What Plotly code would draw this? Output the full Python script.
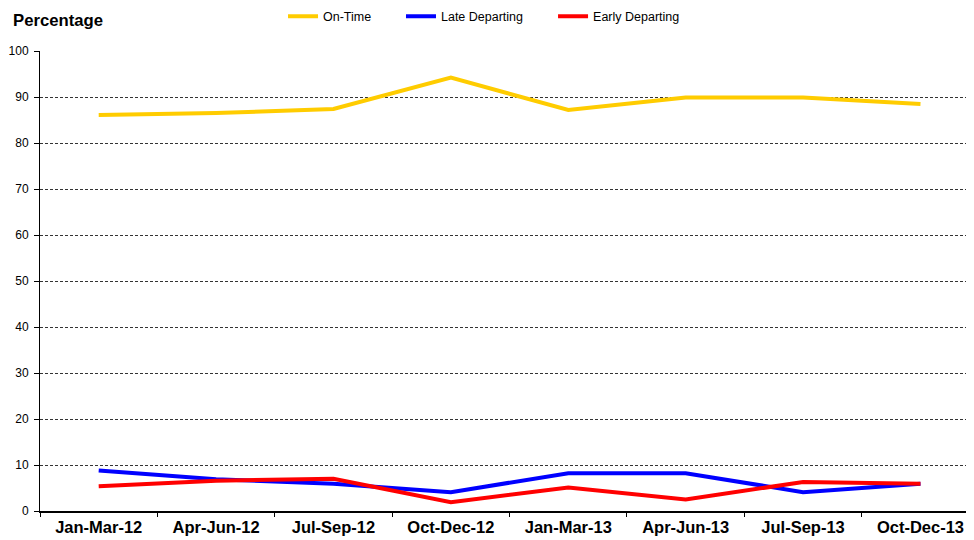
import plotly.graph_objects as go

categories = ["Jan-Mar-12", "Apr-Jun-12", "Jul-Sep-12", "Oct-Dec-12",
              "Jan-Mar-13", "Apr-Jun-13", "Jul-Sep-13", "Oct-Dec-13"]
on_time = [86.1, 86.5, 87.4, 94.2, 87.2, 89.9, 89.9, 88.5]
late_departing = [8.8, 6.9, 5.9, 4.1, 8.2, 8.2, 4.1, 5.9]
early_departing = [5.4, 6.6, 7.0, 1.9, 5.1, 2.5, 6.3, 5.9]
y_ticks = [0, 10, 20, 30, 40, 50, 60, 70, 80, 90, 100]

FONT = "Liberation Sans, Arial, sans-serif"

fig = go.Figure()
fig.add_trace(go.Scatter(x=categories, y=on_time, mode="lines", name="On-Time",
                         line=dict(color="#FFCC00", width=4), legend="legend"))
fig.add_trace(go.Scatter(x=categories, y=late_departing, mode="lines", name="Late Departing",
                         line=dict(color="#0000FF", width=4), legend="legend2"))
fig.add_trace(go.Scatter(x=categories, y=early_departing, mode="lines", name="Early Departing",
                         line=dict(color="#FF0000", width=4), legend="legend3"))

leg_common = dict(orientation="h", xanchor="left", y=1.075, yanchor="middle",
                  font=dict(size=12.5, family=FONT, color="black"),
                  bgcolor="rgba(0,0,0,0)", borderwidth=0)

fig.update_layout(
    width=966, height=532,
    margin=dict(l=32, r=0, t=43, b=29, autoexpand=False),
    plot_bgcolor="white", paper_bgcolor="white",
    font=dict(family=FONT, color="black"),
    title=dict(text="<b>Percentage</b>", xref="container", yref="container",
               x=5/966, xanchor="left", y=1 - 12/532, yanchor="middle",
               font=dict(size=16.7, color="black", family=FONT)),
    legend=dict(x=0.2602, **leg_common),
    legend2=dict(x=0.3865, **leg_common),
    legend3=dict(x=0.5493, **leg_common),
    showlegend=True,
)
fig.update_xaxes(
    type="category", showgrid=False, showline=True, linecolor="black", linewidth=2,
    ticks="outside", tickson="boundaries", ticklen=4, tickcolor="black", tickwidth=1,
    tickfont=dict(size=16.5, family=FONT, color="black"),
    ticktext=["<b>%s</b>" % c for c in categories], tickvals=categories,
    range=[-0.5, 7.456], automargin=False,
)
fig.update_yaxes(
    range=[0, 100], tickvals=y_ticks, showgrid=True, gridcolor="#333333", griddash="3px,2px",
    gridwidth=1, showline=True, linecolor="black", linewidth=1, ticks="outside",
    ticklen=5, tickcolor="black", tickfont=dict(size=12, family=FONT, color="black"),
    zeroline=False, ticklabelstandoff=3, automargin=False,
)

fig.write_html("out.html")
